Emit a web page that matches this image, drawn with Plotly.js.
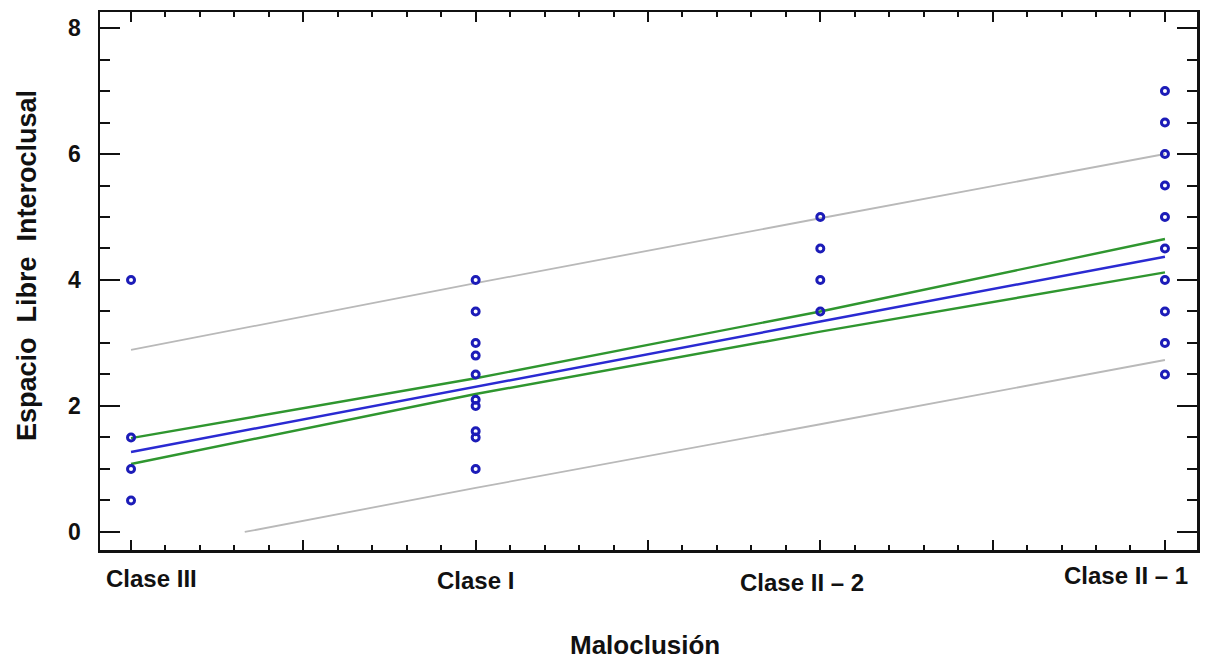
<!DOCTYPE html>
<html>
<head>
<meta charset="utf-8">
<script src="https://cdn.plot.ly/plotly-3.0.1.min.js"></script>
<style>
html,body{margin:0;padding:0;background:#fff;}
#chart{width:1205px;height:666px;}
</style>
</head>
<body>
<div id="chart"></div>
<script>
// Category labels (x positions are their indices 0..3)
const categories = ['Clase III', 'Clase I', 'Clase II \u2013 2', 'Clase II \u2013 1'];

// Observed values per category
const claseIII = [4, 1.5, 1, 0.5];
const claseI = [4, 3.5, 3, 2.8, 2.5, 2.1, 2.0, 1.6, 1.5, 1.0];
const claseII2 = [5, 4.5, 4, 3.5];
const claseII1 = [7, 6.5, 6, 5.5, 5, 4.5, 4, 3.5, 3, 2.5];

// Fitted line and limits
const lineX = [0, 1, 2, 3];
const fitY = [1.27, 2.31, 3.34, 4.37];
const confUpperY = [1.49, 2.44, 3.50, 4.65];
const confLowerY = [1.08, 2.19, 3.18, 4.12];
const predUpperY = [2.89, 3.95, 4.98, 6.00];
const predLowerX = [0.33, 1, 2, 3];
const predLowerY = [0.0, 0.70, 1.71, 2.73];

// y tick values
const yTicks = [0, 2, 4, 6, 8];

// Titles
const xTitle = 'Maloclusi\u00f3n';
const yTitle = 'Espacio\u00a0 Libre\u00a0 Interoclusal';

const font = 'Liberation Sans, Arial, sans-serif';

const groups = [claseIII, claseI, claseII2, claseII1];
const allX = [], allY = [];
groups.forEach((g, i) => { g.forEach(v => { allX.push(i); allY.push(v); }); });

const traces = [
  { x: lineX, y: predUpperY, mode: 'lines', line: { color: '#b9b9b9', width: 1.8 }, hoverinfo: 'skip' },
  { x: predLowerX, y: predLowerY, mode: 'lines', line: { color: '#b9b9b9', width: 1.8 }, hoverinfo: 'skip' },
  { x: lineX, y: confUpperY, mode: 'lines', line: { color: '#2f962f', width: 2.4 }, hoverinfo: 'skip' },
  { x: lineX, y: confLowerY, mode: 'lines', line: { color: '#2f962f', width: 2.4 }, hoverinfo: 'skip' },
  { x: lineX, y: fitY, mode: 'lines', line: { color: '#2a2ad2', width: 2.5 }, hoverinfo: 'skip' },
  { x: allX, y: allY, mode: 'markers',
    marker: { symbol: 'circle-open', size: 7, color: '#1c1cb8', line: { width: 3, color: '#1c1cb8' } } }
];

const labelOffsets = [[20, 0], [0, -2], [-18, -4], [-39, 3]];
const annotations = categories.map((c, i) => ({
  x: i, y: 0, xref: 'x', yref: 'paper', yanchor: 'top', xanchor: 'center',
  text: c, showarrow: false, xshift: labelOffsets[i][0], yshift: -13 + labelOffsets[i][1],
  font: { family: font, size: 24, color: '#111', weight: 'bold' }
}));
annotations.push({
  x: 645, y: 645, xref: 'paper', yref: 'paper', text: xTitle, showarrow: false,
  xanchor: 'center', yanchor: 'middle',
  font: { family: font, size: 26, color: '#111', weight: 'bold' }
});
annotations.push({
  x: 27, y: 266, xref: 'paper', yref: 'paper', text: yTitle, showarrow: false,
  textangle: -90, xanchor: 'center', yanchor: 'middle',
  font: { family: font, size: 27, color: '#111', weight: 'bold' }
});
// convert pixel positions of titles to paper coordinates
const plotL = 100, plotR = 1197, plotT = 12, plotB = 550;
annotations.slice(-2).forEach(a => {
  a.x = (a.x - plotL) / (plotR - plotL);
  a.y = (plotB - a.y) / (plotB - plotT);
});

const layout = {
  width: 1205, height: 666,
  margin: { l: plotL, r: 1205 - plotR, t: plotT, b: 666 - plotB },
  paper_bgcolor: '#fff', plot_bgcolor: '#fff',
  showlegend: false,
  xaxis: {
    range: [-0.09, 3.093], showgrid: false, zeroline: false,
    tick0: 0, dtick: 0.5, ticks: 'inside', ticklen: 10, tickwidth: 2, tickcolor: '#111',
    showticklabels: false,
    minor: { dtick: 0.1, ticks: 'inside', ticklen: 5, tickwidth: 2, tickcolor: '#111', showgrid: false },
    showline: true, linecolor: '#111', linewidth: 2.5, mirror: 'ticks'
  },
  yaxis: {
    range: [-0.286, 8.254], showgrid: false, zeroline: false,
    tickvals: yTicks, ticktext: yTicks.map(String),
    ticks: 'inside', ticklen: 20, tickwidth: 2, tickcolor: '#111',
    ticklabelstandoff: 12,
    tickfont: { family: font, size: 23, color: '#111', weight: 'bold' },
    minor: { dtick: 0.5, ticks: 'inside', ticklen: 10, tickwidth: 2, tickcolor: '#111', showgrid: false },
    showline: true, linecolor: '#111', linewidth: 2.5, mirror: 'ticks'
  },
  annotations: annotations
};

Plotly.newPlot('chart', traces, layout, { displayModeBar: false, staticPlot: true });
</script>
</body>
</html>
